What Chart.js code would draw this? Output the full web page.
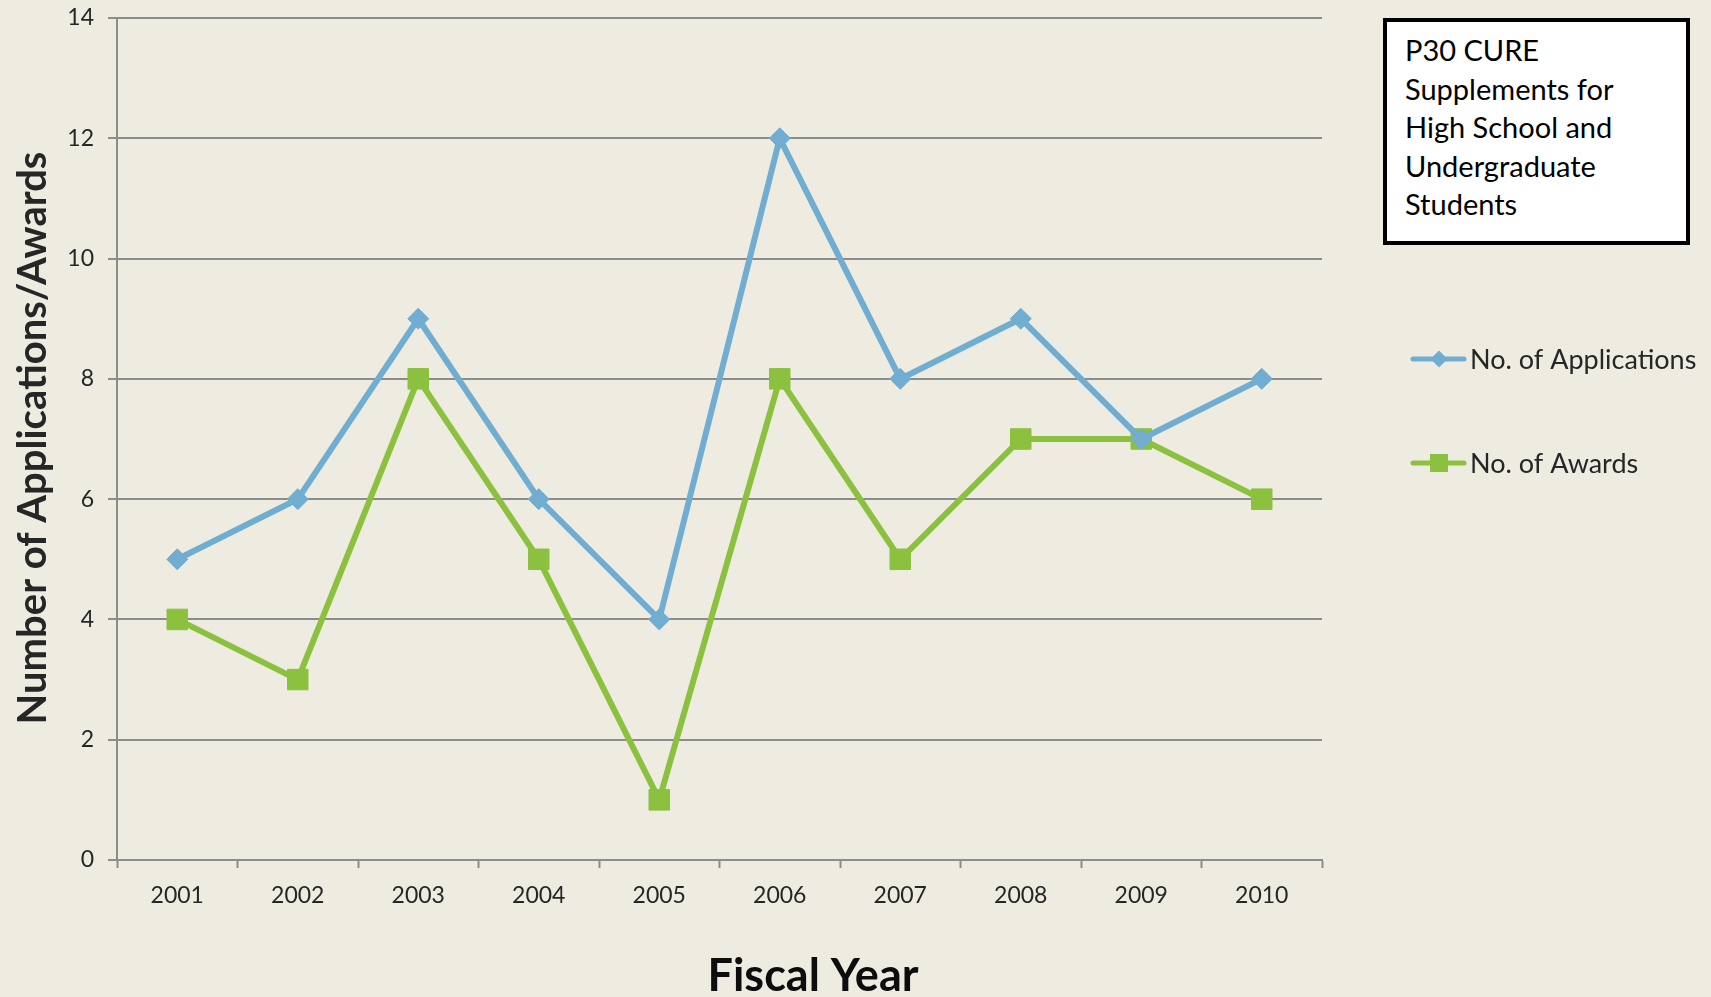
<!DOCTYPE html>
<html><head><meta charset="utf-8">
<script src="https://cdn.jsdelivr.net/npm/chart.js@4"></script>
<style>
html,body{margin:0;padding:0;background:#EEECE1;}
#wrap{position:relative;width:1711px;height:997px;background:#EEECE1;}
#c{position:absolute;left:0;top:0;}
#note{position:absolute;left:1383px;top:18px;width:307px;height:227px;box-sizing:border-box;border:4px solid #000;background:#fff;font-family:Lato,sans-serif;font-size:29px;line-height:38.5px;color:#000;padding:9px 0 0 18px;white-space:nowrap;}
</style>
</head><body>
<div id="wrap">
<canvas id="c" width="1711" height="997"></canvas>
<div id="note">P30 CURE<br>Supplements for<br>High School and<br>Undergraduate<br>Students</div>
</div>
<script>
const years = ['2001','2002','2003','2004','2005','2006','2007','2008','2009','2010'];
const applications = [5,6,9,6,4,12,8,9,7,8];
const awards = [4,3,8,5,1,8,5,7,7,6];
const yMin = 0, yMax = 14, yStep = 2;
const seriesNames = ['No. of Applications','No. of Awards'];
const blue = '#71ADD0', green = '#8CC13F';
const gridGray = '#8C8C8C';

const decor = {
  id: 'decor',
  afterDraw(chart) {
    const ctx = chart.ctx;
    const a = chart.chartArea;
    ctx.save();
    ctx.fillStyle = '#262626';
    ctx.font = 'bold 40px Lato';
    ctx.textAlign = 'center';
    ctx.textBaseline = 'middle';
    ctx.translate(33, (a.top + a.bottom) / 2 - 1);
    ctx.rotate(-Math.PI / 2);
    ctx.fillText('Number of Applications/Awards', 0, 0);
    ctx.restore();
    ctx.save();
    ctx.fillStyle = '#0d0d0d';
    ctx.font = 'bold 45px Lato';
    ctx.textAlign = 'center';
    ctx.textBaseline = 'alphabetic';
    ctx.fillText('Fiscal Year', 813, 991);
    ctx.restore();
    const ys = [359, 463];
    chart.data.datasets.forEach((ds, i) => {
      const y = ys[i];
      const cx = 1439;
      ctx.save();
      ctx.strokeStyle = ds.borderColor;
      ctx.lineWidth = 5;
      ctx.lineCap = 'round';
      ctx.beginPath();
      ctx.moveTo(1413, y); ctx.lineTo(1464, y); ctx.stroke();
      ctx.fillStyle = ds.backgroundColor;
      ctx.beginPath();
      if (ds.pointStyle === 'rectRot') {
        const r = 8.5;
        ctx.moveTo(cx, y - r); ctx.lineTo(cx + r, y); ctx.lineTo(cx, y + r); ctx.lineTo(cx - r, y); ctx.closePath();
      } else {
        const s = 9;
        ctx.rect(cx - s, y - s, 2 * s, 2 * s);
      }
      ctx.fill();
      ctx.fillStyle = '#262626';
      ctx.font = '27px Lato';
      ctx.textAlign = 'left';
      ctx.textBaseline = 'middle';
      ctx.fillText(ds.label, 1470, y + 1);
      ctx.restore();
    });
  }
};

new Chart(document.getElementById('c'), {
  type: 'line',
  data: {
    labels: years,
    datasets: [
      {label: seriesNames[0], data: applications, borderColor: blue, backgroundColor: blue,
       borderWidth: 6, pointStyle: 'rectRot', pointRadius: 10.5, pointBorderWidth: 1, tension: 0},
      {label: seriesNames[1], data: awards, borderColor: green, backgroundColor: green,
       borderWidth: 6, pointStyle: 'rect', pointRadius: 14.5, pointBorderWidth: 1, tension: 0}
    ]
  },
  options: {
    responsive: false,
    animation: false,
    events: [],
    layout: {padding: {left: 0, top: 18, right: 389, bottom: 0}},
    plugins: {legend: {display: false}, tooltip: {enabled: false}, title: {display: false}},
    scales: {
      x: {
        offset: true,
        grid: {offset: true, drawOnChartArea: false, drawTicks: true, tickLength: 8, tickColor: gridGray, tickWidth: 2},
        border: {display: true, color: gridGray, width: 2},
        ticks: {font: {family: 'Lato', size: 23}, color: '#262626', padding: 14, maxRotation: 0, autoSkip: false},
        afterFit(s) { s.height = 137; s.paddingLeft = 0; s.paddingRight = 0; }
      },
      y: {
        min: yMin, max: yMax,
        grid: {color: gridGray, lineWidth: 2, drawTicks: true, tickLength: 9, tickColor: gridGray},
        border: {display: true, color: gridGray, width: 2},
        ticks: {stepSize: yStep, font: {family: 'Lato', size: 23}, color: '#262626', padding: 14},
        afterFit(s) { s.width = 117; s.paddingTop = 0; s.paddingBottom = 0; }
      }
    }
  },
  plugins: [decor]
});
</script>
</body></html>
